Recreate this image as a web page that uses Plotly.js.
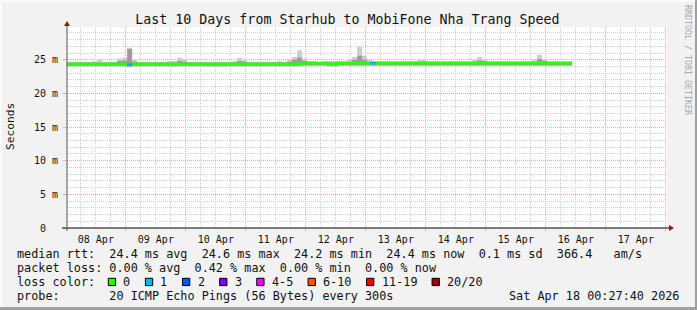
<!DOCTYPE html>
<html><head><meta charset="utf-8">
<script src="https://cdn.plot.ly/plotly-3.0.1.min.js"></script>
<style>html,body{margin:0;padding:0;background:#f2f2f2;} #chart{width:697px;height:310px;}</style>
</head><body><div id="chart"></div>
<script>
// ---- data ----
const startTime = [2026, 3, 8, 0, 30];   // first 2-hour bucket, Apr 08 00:30
const stepHours = 2;
const median = [
24.4,24.4,24.4,24.4,24.4,24.4,24.4,24.4,24.4,24.4,24.4,24.4,
24.3,24.4,24.4,24.4,24.4,24.4,24.4,24.4,24.4,24.4,24.4,24.4,
24.4,24.4,24.4,24.4,24.4,24.4,24.4,24.4,24.4,24.4,24.4,24.4,
24.4,24.4,24.4,24.4,24.4,24.4,24.4,24.4,24.4,24.4,24.4,24.5,
24.5,24.5,24.5,24.5,24.4,24.4,24.5,24.5,24.5,24.5,24.5,24.5,
24.5,24.5,24.5,24.5,24.5,24.5,24.5,24.5,24.5,24.5,24.5,24.5,
24.5,24.5,24.5,24.5,24.5,24.5,24.5,24.5,24.5,24.5,24.5,24.5,
24.5,24.5,24.5,24.5,24.5,24.5,24.5,24.5,24.5,24.5,24.5,24.5,
24.5,24.5,24.5,24.5,24.5,24.5];
const smokeMax = [
24.7,24.7,24.7,24.7,24.7,24.8,25.0,24.7,24.7,24.7,25.2,25.3,
26.8,25.0,24.7,24.7,24.7,24.7,24.7,24.7,24.8,24.8,25.3,25.1,
24.7,24.7,24.7,24.7,24.7,24.7,24.7,24.7,24.7,24.8,25.3,25.0,
24.7,24.7,24.7,24.7,24.7,24.7,24.8,24.7,25.0,25.4,26.4,25.2,
24.8,24.8,24.7,24.8,24.8,24.8,24.8,24.8,25.0,25.4,26.9,25.6,
25.0,24.8,24.8,24.8,24.8,24.8,24.8,24.8,24.8,24.8,25.0,25.0,
24.8,24.8,24.8,24.8,24.8,24.8,24.8,24.8,24.8,25.0,25.4,25.1,
24.8,24.8,24.8,24.8,24.8,24.8,24.8,24.8,24.8,25.0,25.7,25.1,
24.8,24.8,24.8,24.8,24.8,24.8];
const smokeQ3 = [
24.55,24.55,24.55,24.55,24.55,24.55,24.55,24.55,24.55,24.55,24.8,24.9,
26.6,24.7,24.55,24.55,24.55,24.55,24.55,24.55,24.55,24.55,24.8,24.7,
24.55,24.55,24.55,24.55,24.55,24.55,24.55,24.55,24.55,24.55,24.8,24.7,
24.55,24.55,24.55,24.55,24.55,24.55,24.55,24.55,24.7,25.0,25.3,24.8,
24.65,24.65,24.65,24.65,24.65,24.65,24.65,24.65,24.7,25.0,25.6,25.0,
24.65,24.65,24.65,24.65,24.65,24.65,24.65,24.65,24.65,24.65,24.7,24.7,
24.65,24.65,24.65,24.65,24.65,24.65,24.65,24.65,24.65,24.7,24.9,24.8,
24.65,24.65,24.65,24.65,24.65,24.65,24.65,24.65,24.65,24.7,25.1,24.8,
24.65,24.65,24.65,24.65,24.65,24.65];
const smokeQ1 = [
24.1,24.1,24.1,24.1,24.1,24.1,24.1,24.1,24.1,24.1,24.1,24.1,
24.0,24.1,24.1,24.1,24.1,24.1,24.1,24.1,24.1,24.1,24.1,24.1,
24.1,24.1,24.1,24.1,24.1,24.1,24.1,24.1,24.1,24.1,24.1,24.1,
24.1,24.1,24.1,24.1,24.1,24.1,24.1,24.1,24.1,24.1,24.1,24.2,
24.2,24.2,24.2,24.2,24.1,24.1,24.2,24.2,24.2,24.2,24.2,24.2,
24.2,24.2,24.2,24.2,24.2,24.2,24.2,24.2,24.2,24.2,24.2,24.2,
24.2,24.2,24.2,24.2,24.2,24.2,24.2,24.2,24.2,24.2,24.2,24.2,
24.2,24.2,24.2,24.2,24.2,24.2,24.2,24.2,24.2,24.2,24.2,24.2,
24.2,24.2,24.2,24.2,24.2,24.2];
const smokeMin = [
23.95,23.95,23.95,23.95,23.95,23.95,23.95,23.95,23.95,23.95,23.95,23.95,
23.85,23.95,23.95,23.95,23.95,23.95,23.95,23.95,23.9,23.9,23.95,23.95,
23.95,23.95,23.95,23.95,23.95,23.9,23.9,23.9,23.95,23.95,23.95,23.95,
23.95,23.95,23.95,23.95,23.95,23.95,23.95,23.95,23.95,23.95,23.95,24.05,
24.05,24.05,24.05,24.05,23.95,23.95,24.05,24.05,24.05,24.05,24.05,24.05,
24.05,24.05,24.05,24.05,24.05,24.05,24.05,24.05,24.05,24.05,24.05,24.05,
24.05,24.05,24.05,24.05,24.05,24.05,24.05,24.05,24.05,24.05,24.05,24.05,
24.05,24.05,24.05,24.05,24.05,24.05,24.05,24.05,24.05,24.05,24.05,24.05,
24.05,24.05,24.05,24.05,24.05,24.05];
const lossTimes = ['2026-04-09 01:30:00', '2026-04-13 02:50:00'];
const lossValues = [24.3, 24.5];
const lossLevels = [1, 1];
const lossLabels = ['0', '1', '2', '3', '4-5', '6-10', '11-19', '20/20'];
const lossColors = ['#26ff00', '#00b8ff', '#0059ff', '#7e00ff', '#ff00ff', '#ff5500', '#ff0000', '#a10000'];
const yTickVals = [0, 5, 10, 15, 20, 25];
const yTickText = ['0  ', '5 m', '10 m', '15 m', '20 m', '25 m'];
const xRange = ['2026-04-08 00:27:40', '2026-04-18 00:27:40'];
const titleText = 'Last 10 Days from Starhub to MobiFone Nha Trang Speed';
const lineRtt = 'median rtt:  24.4 ms avg  24.6 ms max  24.2 ms min  24.4 ms now  0.1 ms sd  366.4   am/s';
const lineLoss = 'packet loss: 0.00 % avg  0.42 % max  0.00 % min  0.00 % now';
const lineColorLabel = 'loss color:';
const lineProbe = 'probe:       20 ICMP Echo Pings (56 Bytes) every 300s';
const stampText = 'Sat Apr 18 00:27:40 2026';
const yAxisLabel = 'Seconds';
const watermark = 'RRDTOOL / TOBI OETIKER';

// ---- helpers ----
function pad(n){return (n<10?'0':'')+n;}
function fmt(ms){const d=new Date(ms);return d.getUTCFullYear()+'-'+pad(d.getUTCMonth()+1)+'-'+pad(d.getUTCDate())+' '+pad(d.getUTCHours())+':'+pad(d.getUTCMinutes())+':00';}
const t0 = Date.UTC.apply(null, startTime);
const times = median.map((_, i) => fmt(t0 + i*stepHours*3600000));
const nb = s => s.replace(/ /g, '\u00a0');

const W=697, H=310, L=67, R=667, T=27, B=228;
const px = v => (v-L)/(R-L);
const py = v => (B-v)/(B-T);
const MONO = 'DejaVu Sans Mono';

const smokeCommon = {type:'scatter', mode:'lines', x:times, line:{width:0, shape:'hv'}, hoverinfo:'skip', showlegend:false};
const traces = [
  Object.assign({}, smokeCommon, {y:smokeMin}),
  Object.assign({}, smokeCommon, {y:smokeMax, fill:'tonexty', fillcolor:'#cdcdcd'}),
  Object.assign({}, smokeCommon, {y:smokeQ1}),
  Object.assign({}, smokeCommon, {y:smokeQ3, fill:'tonexty', fillcolor:'#9c9c9c'}),
  {type:'scatter', mode:'lines', x:times, y:median, line:{width:2.7, color:lossColors[0], shape:'hv'}, hoverinfo:'skip', showlegend:false},
  {type:'scatter', mode:'markers', x:lossTimes, y:lossValues, marker:{symbol:'line-ew', size:4, line:{width:3, color:lossLevels.map(l=>lossColors[l])}}, hoverinfo:'skip', showlegend:false}
];

const gridRed = '#ffa0a0', gridGray = '#cfcfcf';
const shapes = [];
const annotations = [];
// frame
shapes.push({type:'rect', xref:'paper', yref:'paper', x0:px(0), x1:px(W), y0:py(0), y1:py(2), fillcolor:'#fbfbfb', line:{width:0}, layer:'below'});
shapes.push({type:'rect', xref:'paper', yref:'paper', x0:px(0), x1:px(2), y0:py(0), y1:py(H), fillcolor:'#fbfbfb', line:{width:0}, layer:'below'});
shapes.push({type:'rect', xref:'paper', yref:'paper', x0:px(W-2), x1:px(W), y0:py(0), y1:py(H), fillcolor:'#a0a0a0', line:{width:0}});
shapes.push({type:'rect', xref:'paper', yref:'paper', x0:px(0), x1:px(W), y0:py(H-3), y1:py(H), fillcolor:'#a0a0a0', line:{width:0}});
// axes
shapes.push({type:'line', xref:'paper', yref:'paper', x0:px(62), x1:px(669), y0:py(228), y1:py(228), line:{color:'#000', width:1}});
shapes.push({type:'line', xref:'paper', yref:'paper', x0:px(67), x1:px(67), y0:py(231), y1:py(24), line:{color:'#555', width:1}});
function tri(pts){return 'M'+pts.map(p=>px(p[0])+','+py(p[1])).join(' L')+' Z';}
shapes.push({type:'path', xref:'paper', yref:'paper', path:tri([[64,26],[70,26],[67,21]]), fillcolor:'#9b1010', line:{width:0}});
shapes.push({type:'path', xref:'paper', yref:'paper', path:tri([[669,225],[669,231],[674,228]]), fillcolor:'#9b1010', line:{width:0}});

// legend text
const legFont = {family:MONO, size:11.8, color:'#111'};
function txt(t, x, y, anchor, font){annotations.push({text:nb(t), xref:'paper', yref:'paper', x:px(x), y:py(y), xanchor:anchor||'left', yanchor:'middle', showarrow:false, borderpad:0, font:font||legFont});}
txt(lineRtt, 15.5, 254);
txt(lineLoss, 15.5, 268);
txt(lineColorLabel, 15.5, 282);
txt(lineProbe, 15.5, 296);
txt(stampText, 680, 296, 'right');
let bx = 108.3;
const cw = 7.11;
lossLabels.forEach((lab, i) => {
  shapes.push({type:'rect', xref:'paper', yref:'paper', x0:px(bx), x1:px(bx+7.3), y0:py(278.3), y1:py(285.6), fillcolor:lossColors[i], line:{color:'#000', width:1}});
  const lx = bx + 14;
  txt(lab, lx, 282);
  bx = lx + lab.length*cw + 16;
});
// y label & watermark
annotations.push({text:yAxisLabel, xref:'paper', yref:'paper', x:px(11), y:py(127), xanchor:'center', yanchor:'middle', textangle:-90, showarrow:false, borderpad:0, font:{family:MONO, size:11.2, color:'#111'}});
annotations.push({text:nb(watermark), xref:'paper', yref:'paper', x:px(688), y:py(60), xanchor:'center', yanchor:'middle', textangle:90, showarrow:false, borderpad:0, font:{family:MONO, size:8.3, color:'#a8a8a8'}});

const layout = {
  width:W, height:H,
  margin:{l:L, r:W-R, t:T, b:H-B, pad:0},
  paper_bgcolor:'#f2f2f2', plot_bgcolor:'#ffffff',
  showlegend:false,
  title:{text:titleText, font:{family:MONO, size:13.3, color:'#111'}, x:0.4985, xanchor:'center', y:1-19/H, yanchor:'middle'},
  xaxis:{type:'date', range:xRange, tick0:'2026-04-08', dtick:86400000, tickformat:'%d %b', ticklabelmode:'period',
    showgrid:true, gridcolor:gridRed, griddash:'1px,1px', gridwidth:1,
    ticks:'outside', ticklen:2, tickcolor:gridRed,
    tickfont:{family:MONO, size:10, color:'#111'}, showline:false, zeroline:false, fixedrange:true,
    minor:{dtick:6*3600000, tick0:'2026-04-08', showgrid:true, gridcolor:gridGray, griddash:'1px,1px', gridwidth:1, ticks:''}},
  yaxis:{range:[0, 29.87], tickmode:'array', tickvals:yTickVals, ticktext:yTickText.map(nb),
    showgrid:true, gridcolor:gridRed, griddash:'1px,1px', gridwidth:1,
    ticks:'outside', ticklen:3, tickcolor:gridRed, ticklabelstandoff:3,
    tickfont:{family:MONO, size:10, color:'#111'}, showline:false, zeroline:false, fixedrange:true,
    minor:{dtick:1, tick0:0, showgrid:true, gridcolor:gridGray, griddash:'1px,1px', gridwidth:1, ticks:''}},
  shapes:shapes, annotations:annotations
};
Plotly.newPlot('chart', traces, layout, {staticPlot:true, displayModeBar:false});
</script>
</body></html>
